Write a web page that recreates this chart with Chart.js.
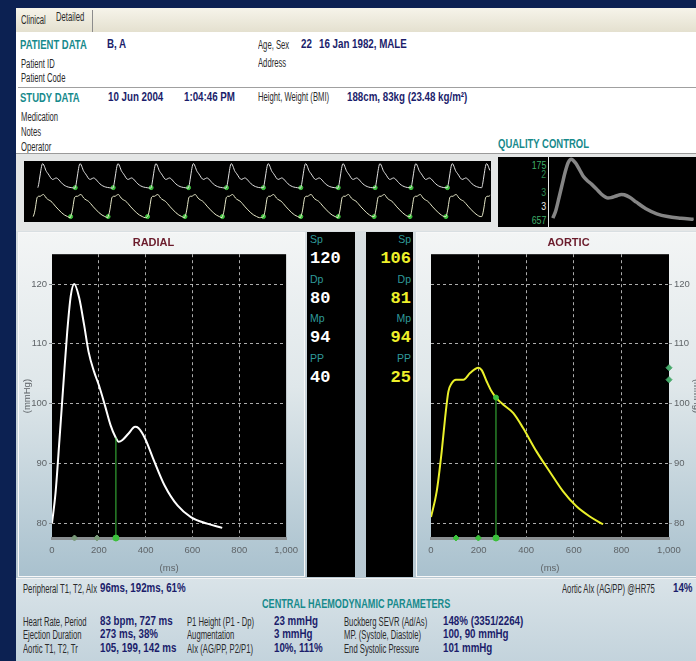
<!DOCTYPE html>
<html>
<head>
<meta charset="utf-8">
<title>Pulse Wave Analysis – Detailed</title>
<script src="https://cdn.jsdelivr.net/npm/chart.js@4.4.1/dist/chart.umd.min.js"></script>
<style>
  html, body { margin: 0; padding: 0; }
  body { width: 696px; height: 661px; overflow: hidden; background: #0c2152; position: relative;
         font-family: "Liberation Sans", Arial, sans-serif; }
  .abs { position: absolute; }
  .t, .v, .h { position: absolute; white-space: nowrap; transform-origin: 0 0; }
  .t { font-size: 12px; line-height: 12px; color: #2a2a2a; transform: scaleX(0.64); }
  .v { font-size: 12.5px; line-height: 13px; font-weight: bold; color: #1b1d6b; transform: scaleX(0.78); }
  .h { font-size: 13px; line-height: 13px; font-weight: bold; color: #178a8c; transform: scaleX(0.73); }
  #tabs { left: 16px; top: 8px; width: 680px; height: 24px; background: linear-gradient(#f6f4ea, #e4e0cf); }
  #info { left: 16px; top: 32px; width: 680px; height: 121px; background: #ffffff; }
  #strip-band { left: 16px; top: 153px; width: 680px; height: 78px; background: #e4e6e6; border-top: 1px solid #9a9a9a; }
  #middle { left: 16px; top: 231px; width: 680px; height: 348px; background: linear-gradient(#d9dfe2, #b7c8d2); }
  .panel { position: absolute; top: 232px; height: 345px; background: linear-gradient(#f3f5f5 0%, #dfe7ea 45%, #a9c1ce 100%);
           border: 1px solid #f8f8f8; box-sizing: border-box; }
  .numcol { position: absolute; top: 232px; height: 345px; background: #000; }
  .lab { position: absolute; font-size: 10.5px; line-height: 11px; color: #2f9a9a; }
  .num { position: absolute; font-family: "Liberation Mono", "DejaVu Sans Mono", monospace; font-weight: bold; font-size: 17px; line-height: 18px; }
  #bottom { left: 16px; top: 578px; width: 680px; height: 83px; background: linear-gradient(#d9e3e8, #c3d3dc); border-top: 1px solid #f2f2f2; }
  canvas { position: absolute; }
  .qc { position: absolute; right: 0; font-size: 11px; line-height: 11px; transform: scaleX(0.8); transform-origin: 100% 0; }
</style>
</head>
<body>
<!-- window frame and regions -->
<div class="abs" id="tabs"></div>
<div class="abs" style="left:92px;top:10px;width:1px;height:22px;background:#8c8c8c"></div>
<div class="t" style="left:21px;top:14px">Clinical</div>
<div class="t" style="left:56px;top:11px">Detailed</div>

<div class="abs" id="info"></div>
<div class="abs" style="left:18px;top:87px;width:678px;height:1px;background:#a0a0a0"></div>

<div class="h" style="left:20px;top:38px">PATIENT DATA</div>
<div class="v" style="left:107px;top:38px">B, A</div>
<div class="t" style="left:21px;top:58px">Patient ID</div>
<div class="t" style="left:21px;top:72px">Patient Code</div>
<div class="t" style="left:258px;top:39px">Age, Sex</div>
<div class="v" style="left:301px;top:38px">22</div>
<div class="v" style="left:319px;top:38px">16 Jan 1982, MALE</div>
<div class="t" style="left:258px;top:57px">Address</div>

<div class="h" style="left:20px;top:91px">STUDY DATA</div>
<div class="v" style="left:108px;top:91px">10 Jun 2004</div>
<div class="v" style="left:184px;top:91px">1:04:46 PM</div>
<div class="t" style="left:258px;top:91px">Height, Weight (BMI)</div>
<div class="v" style="left:347px;top:91px">188cm, 83kg (23.48 kg/m²)</div>
<div class="t" style="left:21px;top:111px">Medication</div>
<div class="t" style="left:21px;top:126px">Notes</div>
<div class="t" style="left:21px;top:141px">Operator</div>
<div class="h" style="left:498px;top:137px">QUALITY CONTROL</div>

<div class="abs" id="strip-band"></div>
<canvas id="strip" width="477" height="71" style="left:19px;top:156px"></canvas>
<div class="abs" style="left:498px;top:157px;width:50px;height:70px;background:#000"></div>
<div class="abs" style="left:498px;top:157px;width:48px;height:70px">
  <div class="qc" style="top:3px;color:#3fae6a">175</div>
  <div class="qc" style="top:12px;color:#2f8a55">2</div>
  <div class="qc" style="top:30px;color:#2f8a55">3</div>
  <div class="qc" style="top:44px;color:#e8e8e8">3</div>
  <div class="qc" style="top:58px;color:#3fae6a">657</div>
</div>
<canvas id="qcplot" width="147" height="70" style="left:549px;top:157px"></canvas>

<div class="abs" id="middle"></div>
<div class="panel" style="left:18px;width:287px"></div>
<canvas id="radial" width="287" height="345" style="left:18px;top:232px"></canvas>

<div class="numcol" style="left:307px;width:48px"></div>
<div class="numcol" style="left:366px;width:47px"></div>
<div id="radialValues"></div>
<div id="aorticValues"></div>

<div class="panel" style="left:416px;width:290px"></div>
<canvas id="aortic" width="290" height="345" style="left:416px;top:232px"></canvas>

<div class="abs" id="bottom"></div>
<div class="t" style="left:23px;top:583px">Peripheral T1, T2, AIx</div>
<div class="v" style="left:100px;top:582px">96ms, 192ms, 61%</div>
<div class="t" style="left:562px;top:583px">Aortic AIx (AG/PP) @HR75</div>
<div class="v" style="left:673px;top:582px">14%</div>
<div class="h" style="left:262px;top:598px;font-size:12.5px">CENTRAL HAEMODYNAMIC PARAMETERS</div>

<div class="t" style="left:23px;top:616px">Heart Rate, Period</div>
<div class="v" style="left:100px;top:615px">83 bpm, 727 ms</div>
<div class="t" style="left:187px;top:616px">P1 Height (P1 - Dp)</div>
<div class="v" style="left:274px;top:615px">23 mmHg</div>
<div class="t" style="left:344px;top:616px">Buckberg SEVR (Ad/As)</div>
<div class="v" style="left:443px;top:615px">148% (3351/2264)</div>

<div class="t" style="left:23px;top:629px">Ejection Duration</div>
<div class="v" style="left:100px;top:628px">273 ms, 38%</div>
<div class="t" style="left:187px;top:629px">Augmentation</div>
<div class="v" style="left:274px;top:628px">3 mmHg</div>
<div class="t" style="left:344px;top:629px">MP. (Systole, Diastole)</div>
<div class="v" style="left:443px;top:628px">100, 90 mmHg</div>

<div class="t" style="left:23px;top:643px">Aortic T1, T2, Tr</div>
<div class="v" style="left:100px;top:642px">105, 199, 142 ms</div>
<div class="t" style="left:187px;top:643px">AIx (AG/PP, P2/P1)</div>
<div class="v" style="left:274px;top:642px">10%, 111%</div>
<div class="t" style="left:344px;top:643px">End Systolic Pressure</div>
<div class="v" style="left:443px;top:642px">101 mmHg</div>

<script>
// ---- averaged radial beat (ms, mmHg) ----
const radialTime     = [0, 15, 32, 50, 65, 80, 95, 116, 137, 156, 180, 200, 226, 250, 271, 285, 301, 327, 355, 369, 397, 432, 481, 537, 593, 663, 727];
const radialPressure = [80, 85, 94, 104, 112, 118, 120, 117.7, 113.2, 108.7, 105.3, 103.1, 99.7, 96.4, 94.4, 93.6, 93.9, 95, 96.1, 95.9, 94.2, 90.8, 86.3, 82.9, 81, 79.9, 79.2];

// ---- derived aortic beat (ms, mmHg) ----
const aorticTime     = [0, 24, 45, 59, 73, 87, 105, 136, 164, 199, 213, 234, 255, 273, 304, 346, 387, 443, 499, 555, 611, 667, 723];
const aorticPressure = [81, 85.3, 92, 97.5, 102, 103.4, 104, 104, 105.1, 106, 105.6, 103.7, 102, 101, 99.8, 98.4, 95.9, 92, 88.6, 85.3, 82.8, 81.1, 79.8];

// ---- timing markers ----
const ejectionDuration = 273;              // ms
const radialMarkTimes  = [96, 192, 273];   // T1, T2, ED
const radialEsp        = 94.3;             // mmHg at end of ejection
const aorticMarkTimes  = [105, 199, 273];  // T1, T2, ED
const aorticEsp        = 101;              // End Systolic Pressure
const aorticEdgeMarks  = [106, 104];       // Sp, P1

// ---- summary pressures ----
const pressureLabels = ['Sp', 'Dp', 'Mp', 'PP'];
const radialValues   = [120, 80, 94, 40];
const aorticValues   = [106, 81, 94, 25];

// ---- axes ----
const timeTicks     = [0, 200, 400, 600, 800, 1000];
const pressureTicks = [80, 90, 100, 110, 120];

// ---- recorded strip: beat onsets (s) ----
const stripRadialOnsets = [0.27, 1.00, 1.74, 2.48, 3.21, 3.95, 4.67, 5.40, 6.13, 6.85, 7.55, 8.26, 8.93];
const stripAorticOnsets = [0.18, 0.91, 1.64, 2.41, 3.14, 3.87, 4.67, 5.40, 6.13, 6.83, 7.53, 8.23, 8.93];

// numeric readouts
function fillValues(id, values, left, align, color) {
  const host = document.getElementById(id);
  pressureLabels.forEach((lab, i) => {
    const top = 234 + i * 39.5;
    const l = document.createElement('div');
    l.className = 'lab';
    l.textContent = lab;
    l.style.top = top + 'px';
    const n = document.createElement('div');
    n.className = 'num';
    n.textContent = values[i];
    n.style.top = (top + 16) + 'px';
    n.style.color = color;
    if (align === 'left') { l.style.left = left + 'px'; n.style.left = left + 'px'; }
    else { l.style.left = (left - 30) + 'px'; l.style.width = '30px'; l.style.textAlign = 'right';
           n.style.left = (left - 40) + 'px'; n.style.width = '40px'; n.style.textAlign = 'right'; }
    host.appendChild(l); host.appendChild(n);
  });
}
fillValues('radialValues', radialValues, 310, 'left', '#ffffff');
fillValues('aorticValues', aorticValues, 411, 'right', '#eef02a');

const plotBackground = {
  id: 'plotBackground',
  beforeDraw(chart, args, opts) {
    const { ctx, chartArea: a } = chart;
    ctx.save();
    ctx.fillStyle = opts.color || '#000';
    ctx.fillRect(a.left, a.top, a.right - a.left, a.bottom - a.top);
    ctx.restore();
  }
};
Chart.register(plotBackground);

const GREEN = '#3cc03c';
const sans = '"Liberation Sans", Arial, sans-serif';
const pts = (xs, ys) => xs.map((x, i) => ({ x, y: ys[i] }));

function waveChart(id, opts) {
  const yMin = 77.5, yMax = 125;
  const side = opts.side;
  return new Chart(document.getElementById(id), {
    type: 'line',
    data: {
      datasets: [
        { data: pts(opts.time, opts.pressure), borderColor: opts.color, borderWidth: 2, pointRadius: 0,
          cubicInterpolationMode: 'monotone', order: 1 },
        { data: [{ x: ejectionDuration, y: yMin }, { x: ejectionDuration, y: opts.esp }],
          borderColor: GREEN, borderWidth: 1, pointRadius: [3, opts.espDot ? 2.5 : 0],
          pointBackgroundColor: GREEN, pointBorderColor: GREEN, order: 0, clip: false },
        { type: 'scatter', data: opts.marks.map(t => ({ x: t, y: yMin })), pointStyle: 'rectRot',
          pointRadius: 3, backgroundColor: opts.markColor, borderColor: opts.markColor, clip: false, order: 0 },
        { type: 'scatter', data: (opts.edge || []).map(v => ({ x: 1000, y: v })), pointStyle: 'rectRot',
          pointRadius: 3, backgroundColor: '#46a86a', borderColor: '#46a86a', clip: false, order: 0 }
      ]
    },
    options: {
      responsive: false, animation: false, events: [],
      layout: { padding: { left: side === 'left' ? 0 : 15, right: side === 'left' ? 16 : 0, top: 0, bottom: 0 } },
      plugins: {
        legend: { display: false }, tooltip: { enabled: false },
        plotBackground: { color: '#000' },
        title: { display: true, text: opts.title, color: '#6a1b2b',
                 font: { family: sans, size: 11, weight: 'bold' }, padding: { top: 4, bottom: 5 } }
      },
      scales: {
        x: {
          type: 'linear', min: 0, max: 1000,
          afterBuildTicks: s => { s.ticks = timeTicks.map(v => ({ value: v })); },
          afterFit: s => { s.height = 39; },
          grid: { color: c => (c.tick && (c.tick.value === 0 || c.tick.value === 1000)) ? 'rgba(0,0,0,0)' : 'rgba(215,215,215,0.8)',
                  drawTicks: false, lineWidth: 1 },
          border: { display: true, color: '#8a8f92', width: 3, dash: [3, 3] },
          ticks: { color: '#5f6468', font: { family: sans, size: 9.5 }, padding: 7, maxRotation: 0 },
          title: { display: true, text: '(ms)', color: '#5f6468', font: { family: sans, size: 9.5 }, padding: { top: 0, bottom: 3 } }
        },
        y: {
          type: 'linear', position: side, min: yMin, max: yMax,
          afterBuildTicks: s => { s.ticks = pressureTicks.map(v => ({ value: v })); },
          afterFit: s => { s.width = side === 'left' ? 34 : 37; },
          grid: { color: 'rgba(215,215,215,0.8)', lineWidth: 1, tickLength: 3, tickColor: '#8a8f92', tickBorderDash: [] },
          border: { display: false, dash: [3, 3] },
          ticks: { color: '#5f6468', font: { family: sans, size: 9.5 }, padding: 2 },
          title: { display: true, text: '(mmHg)', color: '#5f6468', font: { family: sans, size: 9.5 }, padding: { top: 4, bottom: 4 } }
        }
      }
    }
  });
}

waveChart('radial', { title: 'RADIAL', side: 'left', time: radialTime, pressure: radialPressure, color: '#ffffff',
  esp: radialEsp, espDot: false, marks: radialMarkTimes, markColor: '#7a9a7a' });
waveChart('aortic', { title: 'AORTIC', side: 'right', time: aorticTime, pressure: aorticPressure, color: '#eaf02a',
  esp: aorticEsp, espDot: true, marks: aorticMarkTimes, markColor: GREEN, edge: aorticEdgeMarks });

// continuous strip: beats laid at their onsets, each cut at the next onset
function stripSeries(onsets, times, values, endTime) {
  const out = [];
  onsets.forEach((o, k) => {
    const next = k + 1 < onsets.length ? onsets[k + 1] : endTime;
    times.forEach((t, i) => { const x = o + t / 1000; if (x < next) out.push({ x, y: values[i] }); });
  });
  return out;
}
const stripEnd = 9.11;
new Chart(document.getElementById('strip'), {
  type: 'line',
  data: {
    datasets: [
      { data: stripSeries(stripRadialOnsets, radialTime, radialPressure, stripEnd), yAxisID: 'yr',
        borderColor: '#e2e2e2', borderWidth: 1, pointRadius: 0, cubicInterpolationMode: 'monotone' },
      { data: stripSeries(stripAorticOnsets, aorticTime, aorticPressure, stripEnd), yAxisID: 'ya',
        borderColor: '#e6e8c8', borderWidth: 1, pointRadius: 0, cubicInterpolationMode: 'monotone' },
      { type: 'scatter', yAxisID: 'yr', data: stripRadialOnsets.slice(1, -1).map(o => ({ x: o, y: radialPressure[0] })),
        pointRadius: 2, backgroundColor: GREEN, borderColor: GREEN },
      { type: 'scatter', yAxisID: 'ya', data: stripAorticOnsets.slice(1, -1).map(o => ({ x: o, y: aorticPressure[0] })),
        pointRadius: 2, backgroundColor: GREEN, borderColor: GREEN }
    ]
  },
  options: {
    responsive: false, animation: false, events: [],
    layout: { padding: 0 },
    plugins: { legend: { display: false }, tooltip: { enabled: false }, plotBackground: { color: '#000' } },
    scales: {
      x: { type: 'linear', min: 0, max: stripEnd, display: false },
      yr: { type: 'linear', min: 22.9, max: 124.3, display: false },
      ya: { type: 'linear', min: 74.9, max: 143.9, display: false }
    }
  }
});

// quality control: overlaid beats
new Chart(document.getElementById('qcplot'), {
  type: 'line',
  data: {
    datasets: [
      { data: pts(radialTime, radialPressure), borderColor: '#858585', borderWidth: 3.5, pointRadius: 0, cubicInterpolationMode: 'monotone' },
      { data: pts(radialTime, radialPressure), borderColor: '#d6d6d6', borderWidth: 1, pointRadius: 0, cubicInterpolationMode: 'monotone' }
    ]
  },
  options: {
    responsive: false, animation: false, events: [],
    layout: { padding: 0 },
    plugins: { legend: { display: false }, tooltip: { enabled: false }, plotBackground: { color: '#000' } },
    scales: {
      x: { type: 'linear', min: -20, max: 740, display: false },
      y: { type: 'linear', min: 73.9, max: 121.6, display: false }
    }
  }
});
</script>
</body>
</html>
